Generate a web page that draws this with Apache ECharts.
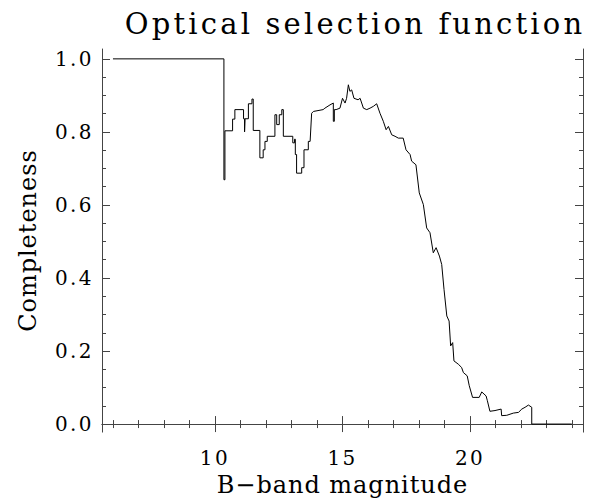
<!DOCTYPE html>
<html>
<head>
<meta charset="utf-8">
<script src="https://cdn.jsdelivr.net/npm/echarts@6/dist/echarts.min.js"></script>
<style>
  html, body { margin: 0; padding: 0; background: #fff; }
  #chart { width: 590px; height: 502px; }
  #chart text { letter-spacing: 0.12em; }
  #chart text[style*="29px"] { letter-spacing: 0.11em; }
  #chart text[style*="24px"] { letter-spacing: 0.04em; }
</style>
</head>
<body>
<div id="chart"></div>
<script>
// B-band magnitude (x) and completeness (y) vertices of the step curve
const magnitude = [
  6.0, 10.35, 10.35, 10.39, 10.39, 10.69, 10.69, 10.78, 10.78, 11.12, 11.12, 11.16, 11.16, 11.18, 11.18,
  11.31, 11.31, 11.45, 11.45, 11.5, 11.5, 11.76, 11.76, 11.89, 11.89, 11.96, 11.96, 12.05, 12.05,
  12.35, 12.35, 12.42, 12.42, 12.52, 12.52, 12.62, 12.62, 12.68, 12.68, 13.05, 13.05, 13.12, 13.12,
  13.15, 13.15, 13.2, 13.2, 13.4, 13.4, 13.49, 13.49, 13.66, 13.66, 13.73, 13.79, 13.86,
  14.24, 14.31, 14.51, 14.64, 14.64, 14.68, 14.68, 14.75, 14.9, 15.0, 15.1, 15.16, 15.23, 15.29, 15.36,
  15.45, 15.61, 15.69, 15.82, 15.95, 16.08, 16.21, 16.34, 16.47, 16.6, 16.71, 16.8, 16.93, 17.06, 17.19,
  17.38, 17.49, 17.65, 17.71, 17.88, 18.01, 18.17, 18.3, 18.43, 18.56, 18.67, 18.8, 18.89, 18.98, 19.09,
  19.18, 19.24, 19.32, 19.37, 19.54, 19.67, 19.74, 19.89, 19.97, 20.1, 20.36, 20.46, 20.63, 20.68, 20.78,
  20.98, 21.22, 21.24, 21.44, 21.7, 21.9, 22.03, 22.16, 22.29, 22.42, 22.42, 23.99
];
const completeness = [
  1.0, 1.0, 0.669, 0.669, 0.803, 0.803, 0.835, 0.835, 0.861, 0.861, 0.836, 0.836, 0.80, 0.80, 0.836,
  0.836, 0.877, 0.877, 0.89, 0.89, 0.804, 0.804, 0.729, 0.729, 0.751, 0.751, 0.774, 0.774, 0.788,
  0.788, 0.847, 0.847, 0.82, 0.82, 0.847, 0.847, 0.861, 0.861, 0.788, 0.788, 0.77, 0.77, 0.78,
  0.78, 0.738, 0.738, 0.687, 0.687, 0.702, 0.702, 0.751, 0.751, 0.774, 0.774, 0.851, 0.856,
  0.861, 0.865, 0.874, 0.879, 0.829, 0.829, 0.861, 0.861, 0.865, 0.892, 0.879, 0.892, 0.929, 0.911, 0.915,
  0.892, 0.888, 0.892, 0.865, 0.861, 0.865, 0.87, 0.877, 0.851, 0.829, 0.806, 0.815, 0.792, 0.788, 0.783,
  0.783, 0.751, 0.738, 0.72, 0.71, 0.633, 0.601, 0.537, 0.524, 0.469, 0.483, 0.46, 0.437, 0.369, 0.296,
  0.282, 0.214, 0.223, 0.173, 0.164, 0.155, 0.141, 0.132, 0.105, 0.073, 0.073, 0.088, 0.077, 0.064, 0.035,
  0.037, 0.041, 0.023, 0.024, 0.030, 0.032, 0.041, 0.046, 0.052, 0.046, 0.0, 0.0
];
const xMajorTicks = [10, 15, 20];
const xMinorTicks = [6, 7, 8, 9, 10, 11, 12, 13, 14, 15, 16, 17, 18, 19, 20, 21, 22, 23, 24];
const yMajorTicks = [0, 0.2, 0.4, 0.6, 0.8, 1.0];
const yMinorTicks = [0, 0.05, 0.1, 0.15, 0.2, 0.25, 0.3, 0.35, 0.4, 0.45, 0.5, 0.55, 0.6, 0.65, 0.7, 0.75, 0.8, 0.85, 0.9, 0.95, 1.0];

const FONT = 'DejaVu Serif';
const frameColor = '#444';
const xMin = 5.57, xMax = 24.43, yMin = -0.022, yMax = 1.027;

function xAx(pos, major, withLabel) {
  const a = {
    type: 'value', position: pos, min: xMin, max: xMax,
    axisLine: { show: major, lineStyle: { color: frameColor, width: 1 } },
    axisTick: { show: true, inside: true, length: major ? 8 : 4, customValues: major ? xMajorTicks : xMinorTicks,
                lineStyle: { color: frameColor, width: 1 } },
    axisLabel: { show: false },
    splitLine: { show: false }
  };
  if (withLabel) {
    a.axisLabel = { show: true, customValues: xMajorTicks, margin: 16, color: '#000',
                    fontFamily: FONT, fontSize: 20, formatter: v => String(v) };
    a.name = 'B\u2212band magnitude';
    a.nameLocation = 'middle';
    a.nameGap = 40;
    a.nameTextStyle = { fontFamily: FONT, fontSize: 24, color: '#000' };
  }
  return a;
}
function yAx(pos, major, withLabel) {
  const a = {
    type: 'value', position: pos, min: yMin, max: yMax,
    axisLine: { show: major, lineStyle: { color: frameColor, width: 1 } },
    axisTick: { show: true, inside: true, length: major ? 8 : 4, customValues: major ? yMajorTicks : yMinorTicks,
                lineStyle: { color: frameColor, width: 1 } },
    axisLabel: { show: false },
    splitLine: { show: false }
  };
  if (withLabel) {
    a.axisLabel = { show: true, customValues: yMajorTicks, margin: 8, color: '#000',
                    fontFamily: FONT, fontSize: 20, formatter: v => v.toFixed(1) };
    a.name = 'Completeness';
    a.nameLocation = 'middle';
    a.nameGap = 62;
    a.nameTextStyle = { fontFamily: FONT, fontSize: 24, color: '#000' };
  }
  return a;
}

const chart = echarts.init(document.getElementById('chart'), null, { renderer: 'svg' });
chart.setOption({
  animation: false,
  backgroundColor: '#fff',
  title: {
    text: 'Optical selection function',
    left: 350, top: 4, textAlign: 'center',
    textStyle: { fontFamily: FONT, fontSize: 29, fontWeight: 'normal', color: '#000' }
  },
  grid: { left: 102, right: 7, top: 49, bottom: 69, containLabel: false },
  xAxis: [xAx('bottom', true, true), xAx('bottom', false, false), xAx('top', true, false), xAx('top', false, false)],
  yAxis: [yAx('left', true, true), yAx('left', false, false), yAx('right', true, false), yAx('right', false, false)],
  series: [{
    type: 'line',
    xAxisIndex: 0, yAxisIndex: 0,
    data: magnitude.map((m, i) => [m, completeness[i]]),
    showSymbol: false, symbol: 'none',
    lineStyle: { color: '#000', width: 1 },
    silent: true
  }]
});
</script>
</body>
</html>
